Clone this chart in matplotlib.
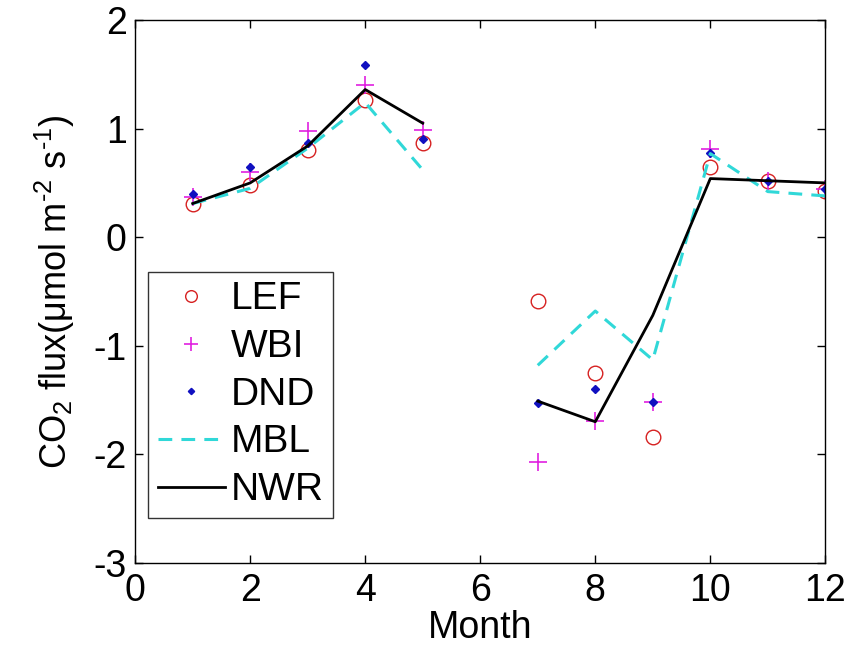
import numpy as np
import matplotlib
matplotlib.use('Agg')
import matplotlib.pyplot as plt

plt.rcParams['font.family'] = ['Liberation Sans', 'DejaVu Sans']
plt.rcParams['mathtext.fontset'] = 'custom'
plt.rcParams['mathtext.rm'] = 'Liberation Sans'
plt.rcParams['mathtext.it'] = 'Liberation Sans:italic'
plt.rcParams['axes.unicode_minus'] = False

months = [1, 2, 3, 4, 5, 6, 7, 8, 9, 10, 11, 12]
nan = np.nan
lef = [0.31, 0.48, 0.80, 1.26, 0.87, nan, -0.59, -1.25, -1.84, 0.65, 0.52, 0.43]
wbi = [0.37, 0.60, 0.98, 1.40, 0.99, nan, -2.07, -1.69, -1.52, 0.81, 0.52, 0.44]
dnd = [0.40, 0.65, 0.87, 1.59, 0.90, nan, -1.53, -1.40, -1.52, 0.78, 0.52, 0.44]
mbl = [0.31, 0.45, 0.82, 1.24, 0.62, nan, -1.18, -0.68, -1.13, 0.77, 0.42, 0.38]
nwr = [0.31, 0.50, 0.84, 1.36, 1.05, nan, -1.51, -1.70, -0.72, 0.54, 0.52, 0.50]

fig = plt.figure(figsize=(8.5, 6.47), dpi=100)
ax = fig.add_axes([0.159, 0.130, 0.812, 0.839])

ax.plot(months, lef, 'o', mfc='none', mec='#d62020', ms=10.5, mew=1.0, label='LEF')
ax.plot(months, wbi, '+', color='#e020e0', ms=13, mew=1.2, label='WBI')
ax.plot(months, dnd, 'D', color='#1010c0', ms=4, label='DND')
ax.plot(months, mbl, '--', color='#30d8d8', lw=2.2, dashes=(4.5, 3), label='MBL')
ax.plot(months, nwr, '-', color='black', lw=2.0, label='NWR')

ax.set_xlim(0, 12)
ax.set_ylim(-3, 2)
ax.set_xticks(range(0, 13, 2))
ax.set_yticks(range(-3, 3))
ax.tick_params(direction='in', labelsize=27, length=6, width=1, top=True, right=True)
ax.tick_params(axis='x', pad=7)
ax.tick_params(axis='y', pad=6)
for s in ax.spines.values():
    s.set_linewidth(1.0)

ax.set_xlabel('Month', fontsize=27, labelpad=1)
ax.set_ylabel(r'CO$_2$ flux(μmol m$^{\text{-2}}$ s$^{\text{-1}}$)', fontsize=26, labelpad=12)

leg = ax.legend(loc='lower left', bbox_to_anchor=(0.019, 0.083), borderaxespad=0,
                fontsize=28, frameon=True, fancybox=False, edgecolor='black',
                handlelength=1.72, handletextpad=0.15, markerscale=0.8,
                labelspacing=0.3, borderpad=0.25)
leg.get_frame().set_linewidth(1.0)

fig.savefig('out.png', dpi=100)
